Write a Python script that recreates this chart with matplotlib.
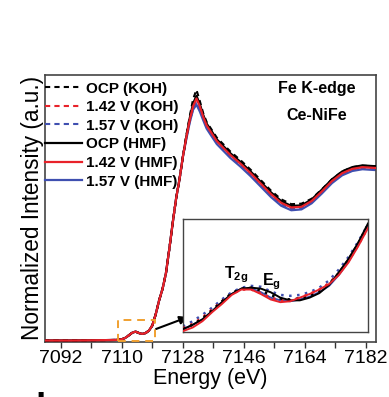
import matplotlib
matplotlib.use("Agg")
import matplotlib.pyplot as plt
from matplotlib.patches import Rectangle
from matplotlib.ticker import MultipleLocator

plt.rcParams['font.family'] = ['Liberation Sans', 'DejaVu Sans']
plt.rcParams['mathtext.fontset'] = 'custom'
plt.rcParams['mathtext.rm'] = 'Liberation Sans'
plt.rcParams['mathtext.bf'] = 'Liberation Sans:bold'

# main spectrum (energy in eV, normalized intensity)
energy = [7087, 7095, 7100, 7105, 7108, 7109, 7110, 7111, 7112, 7113, 7114, 7115, 7116, 7117,
          7118, 7119, 7120, 7121, 7122, 7123, 7124, 7125, 7126, 7127, 7128, 7129, 7130, 7131,
          7132, 7133, 7134, 7135, 7136, 7138, 7140, 7142, 7145, 7148, 7151, 7154, 7157, 7160,
          7163, 7166, 7169, 7172, 7175, 7178, 7181, 7185]

pre_edge = [0.003, 0.003, 0.004, 0.005, 0.006, 0.007, 0.010, 0.018, 0.032, 0.047, 0.054, 0.046,
            0.041, 0.046, 0.060, 0.090, 0.155, 0.235, 0.300, 0.390, 0.530, 0.680, 0.820, 0.930,
            1.060]

ocp_koh = pre_edge + [1.180, 1.290, 1.390, 1.445, 1.380, 1.310, 1.260, 1.230, 1.170, 1.130, 1.090,
                      1.040, 0.985, 0.925, 0.865, 0.815, 0.787, 0.790, 0.818, 0.872, 0.930, 0.975,
                      1.000, 1.008, 1.005]
v142_koh = pre_edge + [1.175, 1.275, 1.355, 1.400, 1.355, 1.295, 1.245, 1.215, 1.155, 1.115, 1.075,
                       1.025, 0.970, 0.910, 0.850, 0.800, 0.772, 0.776, 0.810, 0.865, 0.924, 0.968,
                       0.993, 1.003, 0.998]
v157_koh = pre_edge + [1.165, 1.260, 1.335, 1.375, 1.335, 1.280, 1.232, 1.202, 1.143, 1.103, 1.063,
                       1.013, 0.958, 0.898, 0.838, 0.788, 0.760, 0.765, 0.800, 0.856, 0.916, 0.961,
                       0.986, 0.996, 0.991]
ocp_hmf = pre_edge + [1.175, 1.280, 1.365, 1.410, 1.362, 1.300, 1.250, 1.222, 1.160, 1.120, 1.080,
                      1.030, 0.975, 0.915, 0.855, 0.805, 0.777, 0.780, 0.814, 0.870, 0.930, 0.975,
                      1.000, 1.010, 1.005]
v142_hmf = pre_edge + [1.170, 1.270, 1.350, 1.395, 1.350, 1.290, 1.240, 1.210, 1.150, 1.110, 1.070,
                       1.020, 0.965, 0.905, 0.845, 0.795, 0.768, 0.772, 0.805, 0.860, 0.920, 0.965,
                       0.990, 1.000, 0.995]
v157_hmf = pre_edge + [1.160, 1.255, 1.330, 1.360, 1.320, 1.270, 1.222, 1.192, 1.133, 1.093, 1.053,
                       1.003, 0.948, 0.888, 0.828, 0.778, 0.752, 0.757, 0.792, 0.848, 0.908, 0.953,
                       0.978, 0.988, 0.983]

# pre-edge zoom (inset)
energy_in = [7110.5, 7111.0, 7111.5, 7112.0, 7112.5, 7113.0, 7113.5, 7114.0, 7114.5, 7115.0,
             7115.5, 7116.0, 7116.5, 7117.0, 7117.5, 7118.0, 7118.5, 7119.0, 7119.5, 7120.0]
in_ocp_koh = [0.008, 0.013, 0.020, 0.029, 0.039, 0.048, 0.053, 0.054, 0.051, 0.046, 0.042, 0.041,
              0.042, 0.045, 0.050, 0.058, 0.070, 0.085, 0.103, 0.124]
in_v142_koh = [0.009, 0.014, 0.021, 0.030, 0.039, 0.047, 0.052, 0.052, 0.048, 0.043, 0.040, 0.040,
               0.043, 0.047, 0.052, 0.059, 0.070, 0.084, 0.101, 0.121]
in_v157_koh = [0.011, 0.017, 0.024, 0.032, 0.041, 0.049, 0.054, 0.056, 0.055, 0.050, 0.046, 0.045,
               0.046, 0.049, 0.054, 0.062, 0.074, 0.088, 0.105, 0.124]
in_ocp_hmf = [0.008, 0.013, 0.019, 0.028, 0.038, 0.047, 0.053, 0.054, 0.053, 0.049, 0.043, 0.040,
              0.040, 0.043, 0.048, 0.057, 0.071, 0.086, 0.104, 0.125]
in_v142_hmf = [0.006, 0.010, 0.017, 0.027, 0.036, 0.046, 0.052, 0.052, 0.047, 0.041, 0.038, 0.039,
               0.043, 0.047, 0.052, 0.058, 0.068, 0.082, 0.100, 0.120]
in_v157_hmf = [0.008, 0.013, 0.019, 0.028, 0.038, 0.047, 0.053, 0.053, 0.049, 0.043, 0.040, 0.039,
               0.041, 0.044, 0.049, 0.056, 0.068, 0.083, 0.102, 0.124]

labels = ['OCP (KOH)', '1.42 V (KOH)', '1.57 V (KOH)', 'OCP (HMF)', '1.42 V (HMF)', '1.57 V (HMF)']
BLACK, RED, BLUE = '#000000', '#e8222a', '#3f4fb0'
colors = [BLACK, RED, BLUE, BLACK, RED, BLUE]
main_series = [ocp_koh, v142_koh, v157_koh, ocp_hmf, v142_hmf, v157_hmf]
inset_series = [in_ocp_koh, in_v142_koh, in_v157_koh, in_ocp_hmf, in_v142_hmf, in_v157_hmf]
zorders = [4, 3, 2, 3, 5, 2]

W, H = 389, 397
fig = plt.figure(figsize=(W / 100, H / 100), dpi=100)
ax = fig.add_axes([45 / W, 1 - 341.7 / H, 331 / W, 266.7 / H])

for i in range(6):
    if i < 3:
        ax.plot(energy, main_series[i], color=colors[i], lw=1.5, dashes=(2.5, 2),
                label=labels[i], zorder=zorders[i])
    else:
        ax.plot(energy, main_series[i], color=colors[i], lw=1.6,
                label=labels[i], zorder=zorders[i])

ax.set_xlim(7087.3, 7185)
ax.set_ylim(-0.004, 1.53)
ax.xaxis.set_major_locator(MultipleLocator(18))
ax.xaxis.set_minor_locator(MultipleLocator(9))
ax.set_xticks([7092, 7110, 7128, 7146, 7164, 7182])
ax.set_yticks([])
ax.tick_params(axis='x', which='both', direction='out', length=4, width=1, color='#333333',
               labelsize=14, pad=2)
for s in ax.spines.values():
    s.set_color('#444444')
    s.set_linewidth(1.2)
ax.set_xlabel('Energy (eV)', fontsize=15.5, labelpad=1)
ax.set_ylabel('Normalized Intensity (a.u.)', fontsize=16.3, labelpad=0.5)

leg = ax.legend(loc='upper left', bbox_to_anchor=(0.0, 0.975), frameon=False,
                prop={'weight': 'bold', 'size': 11}, handlelength=2.4,
                handletextpad=0.3, labelspacing=0.3, borderpad=0, borderaxespad=0)

ax.text(0.82, 0.948, 'Fe K-edge', transform=ax.transAxes, ha='center', va='center',
        fontsize=11.5, fontweight='bold')
ax.text(0.82, 0.85, 'Ce-NiFe', transform=ax.transAxes, ha='center', va='center',
        fontsize=11.5, fontweight='bold')

# dashed box around the pre-edge
ax.add_patch(Rectangle((7108.8, 0.0), 11.0, 0.12, fill=False, edgecolor='#f0a030',
                       lw=1.4, ls=(0, (4, 3)), zorder=6, clip_on=False))

# inset
axin = fig.add_axes([183 / W, 1 - 332 / H, 185 / W, 113 / H])
for i in range(6):
    if i < 3:
        axin.plot(energy_in, inset_series[i], color=colors[i], lw=1.8, ls=(0, (1, 2.2)),
                  zorder=zorders[i])
    else:
        axin.plot(energy_in, inset_series[i], color=colors[i], lw=1.4, zorder=zorders[i])
axin.set_xlim(7110.5, 7120)
axin.set_ylim(0.005, 0.13)
axin.set_xticks([])
axin.set_yticks([])
for s in axin.spines.values():
    s.set_color('#444444')
    s.set_linewidth(1.0)

fig.text(224 / W, 1 - 278 / H, r'$\mathbf{T_{2g}}$', fontsize=11.5, ha='left', va='baseline')
fig.text(262 / W, 1 - 285 / H, r'$\mathbf{E_{g}}$', fontsize=11.5, ha='left', va='baseline')

ax.annotate('', xy=(188 / W, 1 - 317 / H), xytext=(156 / W, 1 - 329 / H),
            xycoords='figure fraction', textcoords='figure fraction',
            arrowprops=dict(arrowstyle='-|>', color='black', lw=1.5,
                            mutation_scale=12, shrinkA=0, shrinkB=0))

# next panel label, only its top shows at the bottom edge
fig.text(46 / W, 1 - 419 / H, 'd', fontsize=26, fontweight='bold', ha='right', va='baseline')

fig.savefig('out.png', dpi=100)
